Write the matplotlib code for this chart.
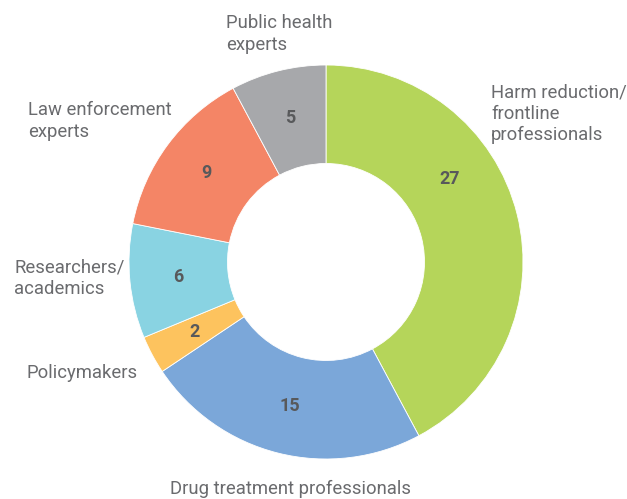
import matplotlib.pyplot as plt
import numpy as np

# data
categories = ['Harm reduction/\nfrontline\nprofessionals', 'Drug treatment professionals',
              'Policymakers', 'Researchers/\nacademics', 'Law enforcement\nexperts',
              'Public health\nexperts']
values = [27, 15, 2, 6, 9, 5]
colors = ['#b5d55a', '#7ba7d9', '#fdc35e', '#89d3e2', '#f48566', '#a7a8ab']

plt.rcParams['font.family'] = ['Roboto', 'DejaVu Sans']

W, H = 627, 499
fig = plt.figure(figsize=(W / 100, H / 100), dpi=100)
ax = fig.add_axes([0, 0, 1, 1])

cx, cy, R = 326, H - 262, 197
wedges, _ = ax.pie(values, colors=colors, startangle=90, counterclock=False,
                   center=(cx, cy), radius=R, frame=True,
                   wedgeprops=dict(width=R * 0.5, edgecolor='white', linewidth=0.6))
ax.set_xlim(0, W)
ax.set_ylim(0, H)
ax.set_aspect('equal')
ax.axis('off')

# value labels inside the ring
for w, v in zip(wedges, values):
    ang = (w.theta1 + w.theta2) / 2
    if v == 27:
        ang = 34  # label sits higher in the reference
    r = R * 0.755
    ax.text(cx + r * np.cos(np.radians(ang)), cy + r * np.sin(np.radians(ang)), str(v),
            ha='center', va='center', fontsize=13, fontweight='bold', color='#58595b')

# category labels outside (block centres)
label_pos = [(491, 114, 'left'), (290, 489, 'center'), (26, 373, 'left'),
             (14, 278, 'left'), (28, 121, 'left'), (226, 34, 'left')]
for txt, (x, y, ha) in zip(categories, label_pos):
    ax.text(x, H - y, txt, ha=ha, va='center', fontsize=13.3,
            color='#6a6b6e', linespacing=1.22)

fig.savefig('out.png', dpi=100)
